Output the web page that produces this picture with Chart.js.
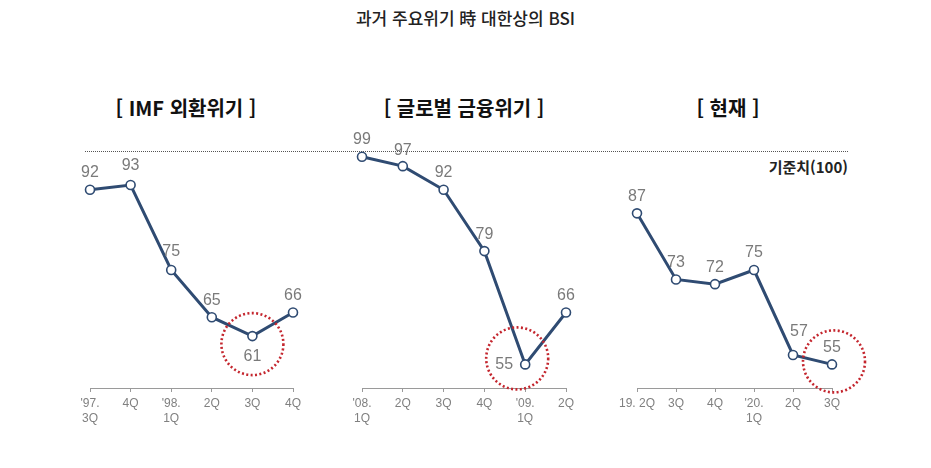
<!DOCTYPE html>
<html lang="ko">
<head>
<meta charset="utf-8">
<title>과거 주요위기 時 대한상의 BSI</title>
<script src="https://cdn.jsdelivr.net/npm/chart.js@4.4.1/dist/chart.umd.min.js"></script>
<style>
  html, body { margin: 0; padding: 0; background: #fff; }
  body { width: 931px; height: 468px; position: relative; overflow: hidden; font-family: "Noto Sans CJK KR", sans-serif; }
  .title { position: absolute; left: 0; width: 931px; top: 5px; text-align: center; font-size: 17px; font-weight: 500; color: #222; }
  .sub { position: absolute; top: 93px; width: 260px; text-align: center; font-size: 20px; font-weight: 700; color: #111; }
  .base { position: absolute; left: 85px; width: 763px; top: 151px; border-top: 1.5px dotted #555; }
  .baseLabel { position: absolute; right: 83px; top: 156px; font-size: 15px; font-weight: 700; color: #222; }
  .panel { position: absolute; top: 120px; width: 280px; height: 320px; }
</style>
</head>
<body>
<div class="title">과거 주요위기 時 대한상의 BSI</div>
<div class="sub" style="left:56px">[ IMF 외환위기 ]</div>
<div class="sub" style="left:334px">[ 글로벌 금융위기 ]</div>
<div class="sub" style="left:598px">[ 현재 ]</div>
<div class="base"></div>
<div class="baseLabel">기준치(100)</div>

<div class="panel" style="left:50px"><canvas id="imf"></canvas></div>
<div class="panel" style="left:322px"><canvas id="gfc"></canvas></div>
<div class="panel" style="left:597px"><canvas id="now"></canvas></div>

<script>
// data
const imfLabels = [["'97.", "3Q"], "4Q", ["'98.", "1Q"], "2Q", "3Q", "4Q"];
const imfValues = [92, 93, 75, 65, 61, 66];

const gfcLabels = [["'08.", "1Q"], "2Q", "3Q", "4Q", ["'09.", "1Q"], "2Q"];
const gfcValues = [99, 97, 92, 79, 55, 66];

const nowLabels = ["19. 2Q", "3Q", "4Q", ["'20.", "1Q"], "2Q", "3Q"];
const nowValues = [87, 73, 72, 75, 57, 55];

const yMin = 50;
const yMax = 100;

// value labels + red dotted circle around the low point
const markPlugin = {
  id: 'marks',
  afterDatasetsDraw(chart, args, opts) {
    const ctx = chart.ctx;
    const meta = chart.getDatasetMeta(0);
    const pos = opts.pos || [];
    ctx.save();
    ctx.font = '16px "Liberation Sans", Arial, sans-serif';
    ctx.fillStyle = '#7a7a7a';
    ctx.textAlign = 'center';
    ctx.textBaseline = 'middle';
    meta.data.forEach((pt, i) => {
      const v = chart.data.datasets[0].data[i];
      const p = pos[i] || [0, -17];
      ctx.fillText(String(v), pt.x + p[0], pt.y + p[1]);
    });

    const c = opts.circle;
    if (c) {
      const pt = meta.data[c.index];
      ctx.beginPath();
      ctx.setLineDash([2, 2.4]);
      ctx.lineWidth = 2.6;
      ctx.strokeStyle = '#c4262e';
      ctx.arc(pt.x + c.dx, pt.y + c.dy, c.r, 0, Math.PI * 2);
      ctx.stroke();
    }
    ctx.restore();
  }
};

function makePanel(id, labels, values, pad, marks) {
  new Chart(document.getElementById(id), {
    type: 'line',
    data: {
      labels: labels,
      datasets: [{
        data: values,
        borderColor: '#2f4b72',
        borderWidth: 3,
        pointRadius: 4.5,
        pointBorderWidth: 1.6,
        pointBackgroundColor: '#fff',
        pointBorderColor: '#2f4b72',
        tension: 0,
        clip: false
      }]
    },
    options: {
      responsive: true,
      maintainAspectRatio: false,
      animation: false,
      layout: { padding: { top: 32, bottom: 0, left: pad[0], right: pad[1] } },
      plugins: {
        legend: { display: false },
        tooltip: { enabled: false },
        marks: marks
      },
      scales: {
        x: {
          offset: false,
          afterFit: s => { s.height = 52; },
          grid: { display: true, drawOnChartArea: false, tickLength: 4, color: '#9a9a9a' },
          border: { display: true, color: '#9a9a9a', width: 1 },
          ticks: {
            color: '#808080',
            padding: 4,
            maxRotation: 0,
            autoSkip: false,
            font: { family: '"Liberation Sans", Arial, sans-serif', size: 12, lineHeight: 1.25 }
          }
        },
        y: {
          display: false,
          min: yMin,
          max: yMax
        }
      }
    },
    plugins: [markPlugin]
  });
}

makePanel('imf', imfLabels, imfValues, [40, 37], {
  pos: [[0, -17], [0, -19], [0, -18], [0, -17], [0, 21], [0, -17]],
  circle: { index: 4, dx: 0, dy: 8, r: 31 }
});
makePanel('gfc', gfcLabels, gfcValues, [40, 36], {
  pos: [[0, -17], [0, -16], [0, -17], [0, -17], [-21, 0], [0, -17]],
  circle: { index: 4, dx: -8, dy: -6, r: 31 }
});
makePanel('now', nowLabels, nowValues, [40, 45], {
  pos: [[0, -17], [0, -17], [0, -17], [0, -17], [6, -23], [0, -17]],
  circle: { index: 5, dx: 2, dy: -3, r: 31 }
});
</script>
</body>
</html>
